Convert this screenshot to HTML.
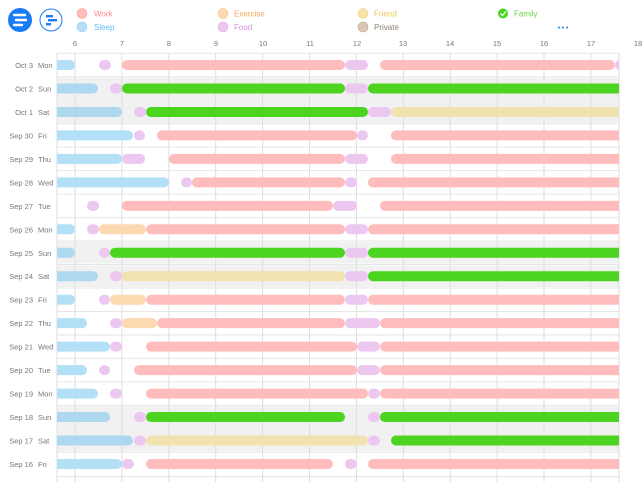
<!DOCTYPE html>
<html><head><meta charset="utf-8"><style>
body{margin:0;background:#fff;width:643px;height:482px;overflow:hidden;font-family:"Liberation Sans",sans-serif}
</style></head><body>
<svg id="s" width="643" height="482" xmlns="http://www.w3.org/2000/svg" font-family="Liberation Sans, sans-serif">
<defs><clipPath id="c"><rect x="57" y="50" width="562" height="432"/></clipPath></defs>
<rect width="643" height="482" fill="#fff"/>
<g id="bg"></g>
<g id="grid" stroke="#dedede" stroke-width="1"></g>
<g id="bars" clip-path="url(#c)"></g>
<!-- header -->
<circle cx="20" cy="20" r="12" fill="#1a7cf5"/>
<g stroke="#fff" stroke-width="2.4" stroke-linecap="round"><line x1="14" y1="15" x2="25" y2="15"/><line x1="16" y1="20" x2="26" y2="20"/><line x1="14" y1="25" x2="22" y2="25"/></g>
<circle cx="51" cy="20" r="11" fill="#fff" stroke="#1a7cf5" stroke-width="1"/>
<g fill="#1a7cf5"><rect x="46" y="15" width="7" height="2.4"/><rect x="48" y="19" width="9" height="2.4"/><rect x="46" y="23" width="5" height="2.4"/></g>
<g font-size="8">
<circle cx="82" cy="13.5" r="5" fill="#ffbcbc" stroke="#f5a5a5" stroke-width="0.6"/><text x="94" y="16.5" fill="#ff8a8a">Work</text>
<circle cx="82" cy="27" r="5" fill="#b3e0f7" stroke="#8fd0f0" stroke-width="0.6"/><text x="94" y="30" fill="#5ac3f0">Sleep</text>
<circle cx="223" cy="13.5" r="5" fill="#fcd9b0" stroke="#f5c08a" stroke-width="0.6"/><text x="234" y="16.5" fill="#f5a556">Exercise</text>
<circle cx="223" cy="27" r="5" fill="#ecc8f0" stroke="#dcaee2" stroke-width="0.6"/><text x="234" y="30" fill="#d88ee0">Food</text>
<circle cx="363" cy="13.5" r="5" fill="#f7e4a8" stroke="#ecd286" stroke-width="0.6"/><text x="374" y="16.5" fill="#e9c85a">Friend</text>
<circle cx="363" cy="27" r="5" fill="#d8c7b4" stroke="#b8a894" stroke-width="0.6"/><text x="374" y="30" fill="#8c8075">Private</text>
<circle cx="503" cy="13.5" r="5" fill="#4cd420"/><path d="M500.5 13.5 l2 2 l3.5 -4" stroke="#fff" stroke-width="1.3" fill="none"/><text x="514" y="16.5" fill="#6cd44a">Family</text>
<g fill="#1a7cf5"><circle cx="559" cy="27.5" r="1"/><circle cx="563" cy="27.5" r="1"/><circle cx="567" cy="27.5" r="1"/></g>
</g>
<g font-size="7.5" fill="#777" text-anchor="middle">
<text x="75" y="46">6</text><text x="122" y="46">7</text><text x="169" y="46">8</text><text x="216" y="46">9</text><text x="263" y="46">10</text><text x="310" y="46">11</text><text x="357" y="46">12</text><text x="403" y="46">13</text><text x="450" y="46">14</text><text x="497" y="46">15</text><text x="544" y="46">16</text><text x="591" y="46">17</text><text x="638" y="46">18</text>
</g>
<g font-size="7.5" fill="#777">
<g text-anchor="end">
<text x="33" y="68">Oct 3</text><text x="33" y="91.5">Oct 2</text><text x="33" y="115">Oct 1</text><text x="33" y="138.4">Sep 30</text><text x="33" y="161.9">Sep 29</text><text x="33" y="185.4">Sep 28</text><text x="33" y="208.8">Sep 27</text><text x="33" y="232.3">Sep 26</text><text x="33" y="255.8">Sep 25</text><text x="33" y="279.2">Sep 24</text><text x="33" y="302.7">Sep 23</text><text x="33" y="326.2">Sep 22</text><text x="33" y="349.6">Sep 21</text><text x="33" y="373.1">Sep 20</text><text x="33" y="396.6">Sep 19</text><text x="33" y="420">Sep 18</text><text x="33" y="443.5">Sep 17</text><text x="33" y="467">Sep 16</text>
</g>
<text x="38" y="68">Mon</text><text x="38" y="91.5">Sun</text><text x="38" y="115">Sat</text><text x="38" y="138.4">Fri</text><text x="38" y="161.9">Thu</text><text x="38" y="185.4">Wed</text><text x="38" y="208.8">Tue</text><text x="38" y="232.3">Mon</text><text x="38" y="255.8">Sun</text><text x="38" y="279.2">Sat</text><text x="38" y="302.7">Fri</text><text x="38" y="326.2">Thu</text><text x="38" y="349.6">Wed</text><text x="38" y="373.1">Tue</text><text x="38" y="396.6">Mon</text><text x="38" y="420">Sun</text><text x="38" y="443.5">Sat</text><text x="38" y="467">Fri</text>
</g>
</svg>
<script>
var NS="http://www.w3.org/2000/svg";
function el(p,t,a){var e=document.createElementNS(NS,t);for(var k in a)e.setAttribute(k,a[k]);document.getElementById(p).appendChild(e);}
var C={s:"#b3e0f7",f:"#ecc8f0",w:"#ffbcbc",g:"#4cd420",r:"#f2e2b0",e:"#fcd9b0"};
var rows=[
[0,[["s",57,75],["f",99,111],["w",122,345],["f",345,368],["w",380,615],["f",615,628]]],
[1,[["s",57,98],["f",110,122],["g",122,345],["f",345,368],["g",368,619]]],
[1,[["s",57,122],["f",134,146],["g",146,368],["f",368,391],["r",391,619]]],
[0,[["s",57,133],["f",134,145],["w",157,357],["f",357,368],["w",391,619]]],
[0,[["s",57,122],["f",122,145],["w",169,345],["f",345,368],["w",391,619]]],
[0,[["s",57,169],["f",181,192],["w",192,345],["f",345,357],["w",368,619]]],
[0,[["f",87,99],["w",122,333],["f",333,357],["w",380,619]]],
[0,[["s",57,75],["f",87,99],["e",99,146],["w",146,345],["f",345,368],["w",368,619]]],
[1,[["s",57,75],["f",99,110],["g",110,345],["f",345,368],["g",368,619]]],
[1,[["s",57,98],["f",110,122],["r",122,345],["f",345,368],["g",368,619]]],
[0,[["s",57,75],["f",99,110],["e",110,146],["w",146,345],["f",345,368],["w",368,619]]],
[0,[["s",57,87],["f",110,122],["e",122,157],["w",157,345],["f",345,380],["w",380,619]]],
[0,[["s",57,110],["f",110,122],["w",146,357],["f",357,380],["w",380,619]]],
[0,[["s",57,87],["f",99,110],["w",134,357],["f",357,380],["w",380,619]]],
[0,[["s",57,98],["f",110,122],["w",146,368],["f",368,380],["w",380,619]]],
[1,[["s",57,110],["f",134,146],["g",146,345],["f",368,380],["g",380,619]]],
[1,[["s",57,133],["f",134,146],["r",146,368],["f",368,380],["g",391,619]]],
[0,[["s",57,122],["f",122,134],["w",146,333],["f",345,357],["w",368,619]]]];
rows.forEach(function(r,i){
 var cy=65+i*23.47,top=cy-11.7;
 if(r[0])el("bg","rect",{x:57,y:top+1,width:562,height:21.5,fill:"#f1f1f1"});
 el("grid","line",{x1:57,x2:619,y1:top,y2:top,stroke:"#e6e6e6"});
 r[1].forEach(function(b){
  var x1=b[1],x2=b[2];
  if(x1<=57)x1=45; if(x2>=619)x2=632;
  var col=C[b[0]]; if(r[0]&&b[0]=="s")col="#aed8ef";
  el("bars","rect",{x:x1,y:cy-5,width:x2-x1,height:10,rx:5,fill:col});
 });
});
el("grid","line",{x1:57,x2:619,y1:476.7,y2:476.7,stroke:"#e6e6e6"});
for(var h=0;h<12;h++){var x=75+h*46.9;el("grid","line",{x1:x,x2:x,y1:53,y2:482});}
el("grid","line",{x1:57,x2:57,y1:53,y2:482});
el("grid","line",{x1:619,x2:619,y1:53,y2:482});
</script>
</body></html>
